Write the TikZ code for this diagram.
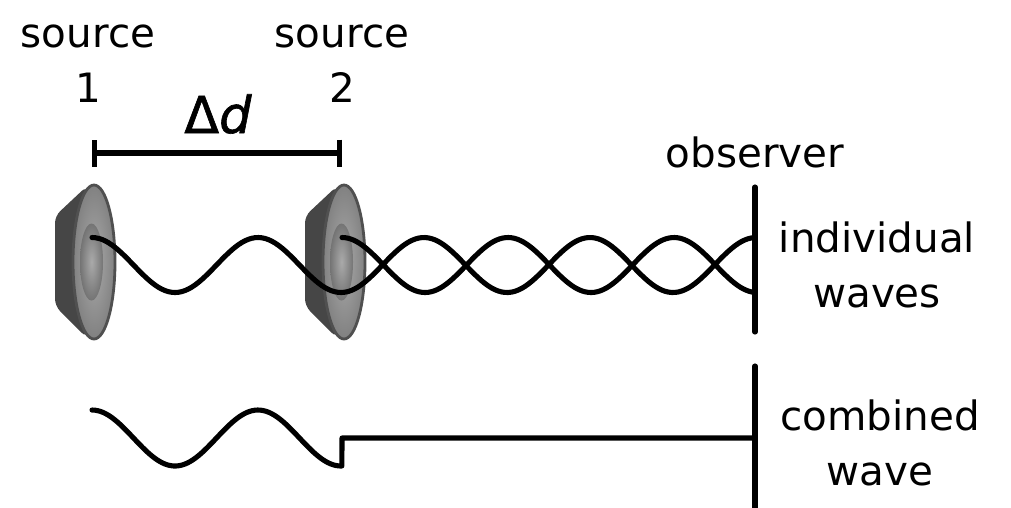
\documentclass[tikz,border=0pt]{standalone}
\usepackage{fontspec}
\setmainfont{DejaVu Sans}
\usepackage{tikz}
\usetikzlibrary{arrows.meta, positioning, calc}
\definecolor{spkBack}{HTML}{464646}
\definecolor{spkEdge}{HTML}{505050}
\definecolor{spkLight}{HTML}{AAAAAA}
\definecolor{spkDark}{HTML}{818181}

\tikzset{
  speaker/.pic={
    \fill[spkBack, rounded corners=2pt] (-0.39,0.46) -- (-0.07,0.76) -- (-0.07,-0.76) -- (-0.39,-0.44) -- cycle;
    \shadedraw[inner color=spkLight, outer color=spkDark, draw=spkEdge, line width=0.8pt] (0,0) ellipse [x radius=0.21, y radius=0.77];
    \shade[inner color=spkLight, outer color=spkDark!90!black] (-0.025,0) ellipse [x radius=0.115, y radius=0.385];
  },
  wave/.style={line width=1.45pt, line cap=round, line join=round},
  txt/.style={font=\fontsize{11.5}{13}\selectfont, inner sep=0pt, anchor=base}
}

\begin{document}
\begin{tikzpicture}
  \useasboundingbox (0,0) rectangle (10.11,5.07);
  \coordinate (dimL) at (0.92,3.54);
  \coordinate (dimR) at (3.42,3.54);
  \coordinate (obsTop) at (7.55,3.20);
  \coordinate (obsLow) at (7.55,1.75);
  \coordinate (obsHigh) at (7.55,1.41);
  \coordinate (obsEnd) at (7.55,-0.05);
  \coordinate (jump) at (3.42,0.69);
  \coordinate (obsMid) at (7.55,0.69);

  \pic at (0.94,2.45) {speaker};
  \pic at (3.44,2.45) {speaker};

  \node[txt] (src1) at (0.88,4.60) {source};
  \node[txt] (num1) at (0.88,4.05) {1};
  \node[txt] (src2) at (3.42,4.60) {source};
  \node[txt] (num2) at (3.42,4.05) {2};
  \node[txt, font=\fontsize{14.5}{16}\selectfont\addfontfeatures{FakeBold=1.2}] (delta) at (2.18,3.74) {Δ\textit{d}};
  \draw[wave, {Bar[width=2.7mm]}-{Bar[width=2.7mm]}] (dimL) -- (dimR);

  \node[txt] (obs) at (7.55,3.40) {observer};
  \node[txt] (indiv) at (8.77,2.55) {individual};
  \node[txt] (waves) at (8.77,2.00) {waves};
  \node[txt] (comb) at (8.80,0.77) {combined};
  \node[txt] (wave) at (8.80,0.22) {wave};

  \draw[wave] plot[domain=0.92:7.55, samples=200] (\x, {2.42+0.275*cos(360*(\x-0.92)/1.66)});
  \draw[wave] plot[domain=3.42:7.55, samples=140] (\x, {2.42+0.275*cos(360*(\x-3.42)/1.66)});
  \draw[wave] plot[domain=0.92:3.42, samples=90] (\x, {0.69+0.28*cos(360*(\x-0.92)/1.66)}) -- (jump) -- (obsMid);

  \draw[wave] (obsTop) -- (obsLow);
  \draw[wave] (obsHigh) -- (obsEnd);
\end{tikzpicture}
\end{document}
